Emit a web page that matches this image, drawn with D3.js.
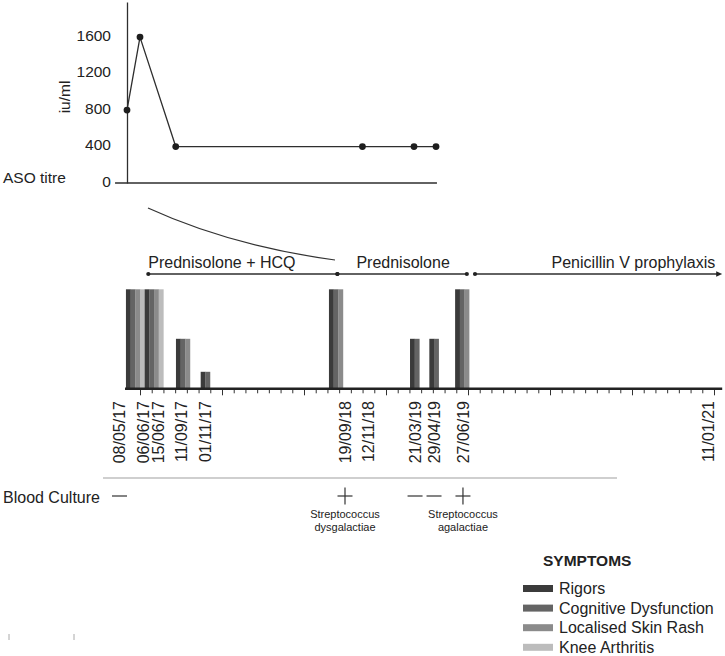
<!DOCTYPE html>
<html>
<head>
<meta charset="utf-8">
<script src="https://cdn.jsdelivr.net/npm/d3@7"></script>
<style>
  html, body { margin: 0; padding: 0; background: #fff; }
  svg { display: block; font-family: "Liberation Sans", Arial, Helvetica, sans-serif; }
</style>
</head>
<body>
<svg id="chart" width="725" height="656"></svg>
<script>
// ---------------- DATA ----------------
// timeline dates (labels) and their position along the timeline axis (axis tick units)
const dates     = ['08/05/17','06/06/17','15/06/17','11/09/17','01/11/17','19/09/18','12/11/18','21/03/19','29/04/19','27/06/19','11/01/21'];
const dateSlots = [-1.75, 0.26, 1.54, 3.5, 5.55, 17.5, 19.46, 23.48, 25.1, 27.57, 48.49];

// ASO titre (iu/ml), positions on the same timeline axis units
const asoValues = [800, 1600, 400, 400, 400, 400];
const asoSlots  = [-1.11, 0, 3.05, 18.99, 23.39, 25.27];
const asoTicks  = [0, 400, 800, 1200, 1600];

// symptom episodes (severity 0-6); slot = left edge of episode group
const symptoms      = ['Rigors','Cognitive Dysfunction','Localised Skin Rash','Knee Arthritis'];
const symptomColors = ['#3b3b3b','#646464','#8b8b8b','#bcbcbc'];
const episodeDates  = ['08/05/17','06/06/17','11/09/17','01/11/17','19/09/18','21/03/19','29/04/19','27/06/19'];
const episodeSlots  = [-1.2, 0.4, 3.07, 5.18, 16.13, 23.05, 24.7, 26.9];
const rigors        = [6, 6, 3, 1, 6, 3, 3, 6];
const cognitive     = [6, 6, 3, 1, 6, 3, 3, 6];
const skinRash      = [6, 6, 3, 0, 6, 0, 0, 6];
const kneeArthritis = [6, 6, 0, 0, 0, 0, 0, 0];

// treatments
const treatments     = ['Prednisolone + HCQ','Prednisolone','Penicillin V prophylaxis'];
const treatmentStart = [0.71, 16.85, 28.6];
const treatmentEnd   = [16.85, 27.9, 49.7];

// blood cultures
const cultureDates     = ['08/05/17','19/09/18','21/03/19','29/04/19','27/06/19'];
const cultureResults   = ['-','+','-','-','+'];
const cultureOrganisms = [[], ['Streptococcus','dysgalactiae'], [], [], ['Streptococcus','agalactiae']];

// ---------------- LAYOUT ----------------
const svg = d3.select('#chart');
const ink = '#2e2e2e';
const FONT = 15.5;

// shared horizontal scale: timeline axis units
const x = d3.scaleLinear().domain([0, 49]).range([140, 714]);
const slotOf = d => dateSlots[dates.indexOf(d)];

// ---------- ASO titre panel ----------
const yA = d3.scaleLinear().domain([0, 1985]).range([183, 2]);
const asoAxisX = x(-1.11);

const ag = svg.append('g');
ag.append('line')
  .attr('x1', x(-2.13)).attr('x2', x(25.35))
  .attr('y1', yA(0)).attr('y2', yA(0))
  .attr('stroke', ink).attr('stroke-width', 1.3);

const yAxis = d3.axisLeft(yA).tickValues(asoTicks).tickFormat(d3.format('d'))
  .tickSize(0).tickSizeOuter(0).tickPadding(16);
const yAxG = ag.append('g').attr('transform', `translate(${asoAxisX},0)`).call(yAxis);
yAxG.select('.domain').attr('stroke', ink).attr('stroke-width', 1.3);
yAxG.selectAll('text')
  .attr('font-size', FONT).attr('fill', '#222')
  .attr('font-family', '"Liberation Sans", Arial, sans-serif')
  .attr('dy', '0.2em');

ag.append('text')
  .attr('transform', `translate(${70},${97})rotate(-90)`)
  .attr('text-anchor', 'middle')
  .attr('font-size', FONT).attr('fill', '#222')
  .text('iu/ml');

ag.append('text')
  .attr('x', 3).attr('y', 183)
  .attr('font-size', FONT).attr('fill', '#222')
  .text('ASO titre');

const asoPts = asoValues.map((v, i) => [x(asoSlots[i]), yA(v)]);
ag.append('path')
  .attr('d', d3.line()(asoPts))
  .attr('fill', 'none').attr('stroke', ink).attr('stroke-width', 1.3);
ag.selectAll('circle.aso').data(asoPts).join('circle')
  .attr('class', 'aso')
  .attr('cx', d => d[0]).attr('cy', d => d[1]).attr('r', 3.4)
  .attr('fill', '#1e1e1e');

// decorative connector curve
const cp = d3.path();
cp.moveTo(148, 208);
cp.quadraticCurveTo(230, 245.6, 335, 260);
svg.append('path').attr('d', cp.toString())
  .attr('fill', 'none').attr('stroke', '#333').attr('stroke-width', 1.2);

// ---------- treatments ----------
const tY = 274;
const tg = svg.append('g');
const anchors = ['start', 'middle', 'end'];
treatments.forEach((t, i) => {
  const x1 = x(treatmentStart[i]), x2 = x(treatmentEnd[i]);
  tg.append('line').attr('x1', x1).attr('x2', i === 2 ? x2 - 3 : x2)
    .attr('y1', tY).attr('y2', tY)
    .attr('stroke', ink).attr('stroke-width', 1.3);
  tg.append('circle').attr('cx', x1).attr('cy', tY).attr('r', 2.1).attr('fill', '#222');
  if (i < 2) tg.append('circle').attr('cx', x2).attr('cy', tY).attr('r', 2.1).attr('fill', '#222');
  else tg.append('path')
    .attr('d', `M${x2},${tY}L${x2 - 6},${tY - 2.8}L${x2 - 6},${tY + 2.8}Z`)
    .attr('fill', '#222');
  const tx = anchors[i] === 'start' ? x1 : anchors[i] === 'middle' ? (x1 + x2) / 2 + 1 : x2 - 7;
  tg.append('text')
    .attr('x', tx).attr('y', 268)
    .attr('text-anchor', anchors[i])
    .attr('font-size', 16).attr('fill', '#222')
    .text(t);
});

// ---------- symptom bars ----------
const yS = d3.scaleLinear().domain([0, 6]).range([388.3, 289.3]);
const series = [rigors, cognitive, skinRash, kneeArthritis];
const subW = x(0.4) - x(0);
const barData = [];
episodeDates.forEach((d, e) => {
  let k = 0;
  series.forEach((s, j) => {
    if (s[e] > 0) {
      barData.push({ left: x(episodeSlots[e]) + k * subW, v: s[e], j });
      k++;
    }
  });
});
svg.append('g').selectAll('rect').data(barData).join('rect')
  .attr('x', d => d.left).attr('width', subW + 0.2)
  .attr('y', d => yS(d.v)).attr('height', d => yS(0) - yS(d.v))
  .attr('fill', d => symptomColors[d.j]);

// timeline axis
const xAxis = d3.axisBottom(x).tickValues(d3.range(0, 50)).tickFormat('').tickSizeOuter(0);
const xAxG = svg.append('g').attr('transform', `translate(0,${yS(0) + 0.5})`).call(xAxis);
xAxG.select('.domain').remove();
xAxG.selectAll('.tick line')
  .attr('stroke', '#333').attr('stroke-width', 1)
  .attr('y2', d => (d % 7 === 0 ? 6.5 : 4.5));
svg.append('line')
  .attr('x1', x(-1.28)).attr('x2', x(49.7))
  .attr('y1', yS(0) + 0.5).attr('y2', yS(0) + 0.5)
  .attr('stroke', '#222').attr('stroke-width', 2.6);

// date labels
svg.append('g').selectAll('text').data(dates).join('text')
  .attr('transform', (d, i) => `translate(${x(dateSlots[i])},401)rotate(-90)`)
  .attr('text-anchor', 'end')
  .attr('dy', '0.36em')
  .attr('font-size', 16).attr('fill', '#222')
  .text(d => d);

// ---------- blood culture ----------
svg.append('line')
  .attr('x1', 103).attr('x2', 617).attr('y1', 478).attr('y2', 478)
  .attr('stroke', '#cfcfcf').attr('stroke-width', 2);

svg.append('text')
  .attr('x', 3).attr('y', 503)
  .attr('font-size', 16).attr('fill', '#222')
  .text('Blood Culture');

const cg = svg.append('g');
const cY = 496;
cultureDates.forEach((d, i) => {
  const cx = x(slotOf(d));
  cg.append('line').attr('x1', cx - 7.5).attr('x2', cx + 7.5).attr('y1', cY).attr('y2', cY)
    .attr('stroke', '#333').attr('stroke-width', 1.2);
  if (cultureResults[i] === '+') {
    cg.append('line').attr('x1', cx).attr('x2', cx).attr('y1', cY - 8.5).attr('y2', cY + 8.5)
      .attr('stroke', '#333').attr('stroke-width', 1.2);
  }
  cultureOrganisms[i].forEach((w, k) => {
    cg.append('text')
      .attr('x', cx).attr('y', 518 + k * 12.5)
      .attr('text-anchor', 'middle')
      .attr('font-size', 11).attr('fill', '#222')
      .text(w);
  });
});

// ---------- legend ----------
const lg = svg.append('g');
lg.append('text')
  .attr('x', 543).attr('y', 566)
  .attr('font-size', 15.5).attr('font-weight', 'bold').attr('fill', '#222')
  .text('SYMPTOMS');
symptoms.forEach((s, i) => {
  const cy = 588.5 + i * 19.6;
  lg.append('rect').attr('x', 523).attr('y', cy - 3.5).attr('width', 30).attr('height', 7)
    .attr('fill', symptomColors[i]);
  lg.append('text').attr('x', 559).attr('y', cy + 5.5)
    .attr('font-size', 16).attr('fill', '#222')
    .text(s);
});

// small stray marks at bottom left
[9, 74].forEach(px => {
  svg.append('line').attr('x1', px).attr('x2', px).attr('y1', 634).attr('y2', 640)
    .attr('stroke', '#aaa').attr('stroke-width', 1);
});
</script>
</body>
</html>
